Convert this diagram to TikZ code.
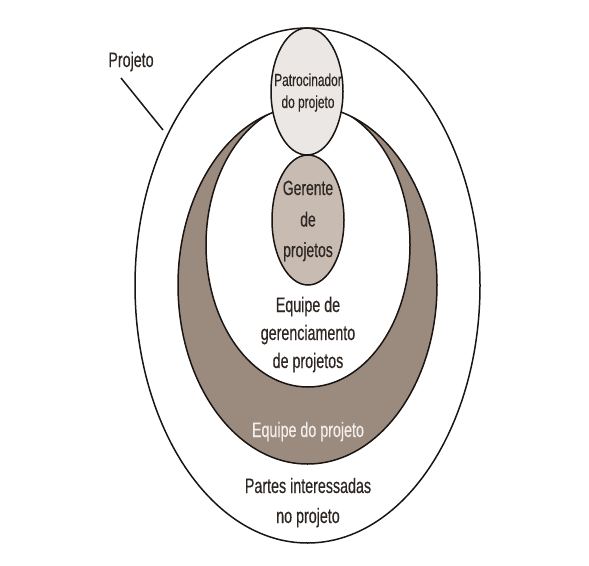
\documentclass[tikz,border=0pt]{standalone}
\usepackage{fontspec}
\setmainfont{Liberation Sans}[FakeStretch=0.68, FakeBold=0.35]
\definecolor{crescent}{HTML}{9B8B7E}
\definecolor{gerfill}{HTML}{C8BCB2}
\definecolor{patfill}{HTML}{EBE7E4}
\definecolor{lincol}{HTML}{1A1512}
\definecolor{txtcol}{HTML}{2E2622}
\definecolor{lighttxt}{HTML}{F2EEEA}
\tikzset{
  outline/.style={draw=lincol, line width=1.5pt},
  lbl/.style={anchor=base, inner sep=0pt, text=txtcol, font=\fontsize{21}{24}\selectfont},
  gerlbl/.style={anchor=base, inner sep=0pt, text=txtcol, font=\fontsize{20.5}{24}\selectfont},
  smalllbl/.style={anchor=base, inner sep=0pt, text=txtcol, font=\fontsize{17.5}{20}\selectfont},
}
\begin{document}
\begin{tikzpicture}[x=1pt,y=-1pt]
\useasboundingbox (0,0) rectangle (589,565);
% outer ellipse: stakeholders
\draw[outline, fill=white] (307.5,285.5) ellipse [x radius=172.5, y radius=257.5];
% project team (brown)
\fill[crescent] (307.5,285) ellipse [x radius=129.5, y radius=179];
\begin{scope}
  \clip (307.5,285) ellipse [x radius=129.5, y radius=179];
  \draw[outline, fill=white] (308,245) ellipse [x radius=102, y radius=142];
\end{scope}
\draw[outline] (307.5,285) ellipse [x radius=129.5, y radius=179];
% project manager
\draw[outline, fill=gerfill] (308,220) ellipse [x radius=36, y radius=65];
% sponsor
\draw[outline, fill=patfill] (307,91.5) ellipse [x radius=36, y radius=63.5];
% labels
\node[lbl] (proj) at (131,67) {Projeto};
\coordinate (pjs) at (121,78);
\coordinate (pje) at (163,130);
\draw[draw=lincol, line width=1.5pt] (pjs) -- (pje);
\node[smalllbl] (pat1) at (308,86) {Patrocinador};
\node[smalllbl] (pat2) at (308,108) {do projeto};
\node[gerlbl] (ger1) at (308,195) {Gerente};
\node[gerlbl] (ger2) at (308,226.5) {de};
\node[gerlbl] (ger3) at (308,257) {projetos};
\node[lbl] (egp1) at (308,312) {Equipe de};
\node[lbl] (egp2) at (308,340) {gerenciamento};
\node[lbl] (egp3) at (308,368) {de projetos};
\node[lbl, text=lighttxt] (edp) at (308,437) {Equipe do projeto};
\node[lbl] (pi1) at (308,493) {Partes interessadas};
\node[lbl] (pi2) at (308,523) {no projeto};
\end{tikzpicture}
\end{document}
